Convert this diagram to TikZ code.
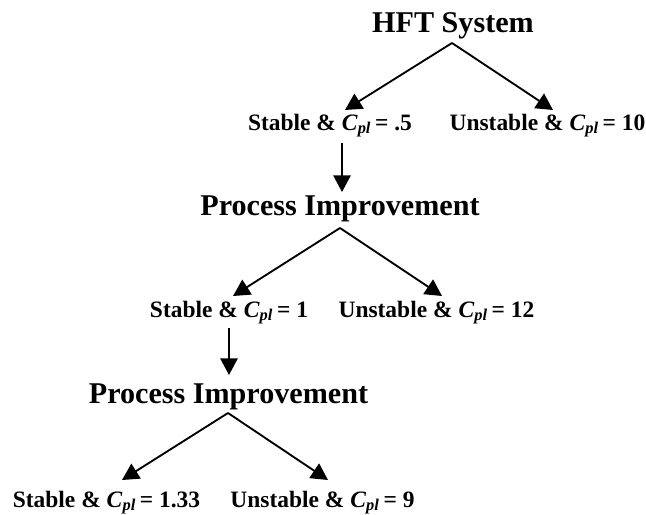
\documentclass[tikz,border=0pt]{standalone}
\usepackage{fontspec}
\setmainfont{Liberation Serif}
\usetikzlibrary{arrows.meta}
\newcommand{\cpl}{\textbf{\textit{C}}\textsubscript{\textbf{\textit{pl}}}}
\tikzset{
  title/.style={font=\bfseries\fontsize{22.6}{26}\selectfont, inner sep=0pt, anchor=base},
  lbl/.style={font=\bfseries\fontsize{17.6}{20}\selectfont, inner sep=0pt, anchor=base},
  arr/.style={line width=1.4pt, -{Triangle[length=12.5pt,width=13pt]}}
}
\begin{document}
\begin{tikzpicture}[x=0.75pt,y=-0.75pt]
\useasboundingbox (0,0) rectangle (646,514);
% nodes
\node[title] (hft) at (453,32) {HFT System};
\node[lbl] (s1) at (330,130) {Stable \& \cpl\,= .5};
\node[lbl] (u1) at (547.5,130) {Unstable \& \cpl\,= 10};
\node[title] (pi1) at (340,215) {Process Improvement};
\node[lbl] (s2) at (229,317) {Stable \& \cpl\,= 1};
\node[lbl] (u2) at (436.5,317) {Unstable \& \cpl\,= 12};
\node[title] (pi2) at (228.5,403) {Process Improvement};
\node[lbl] (s3) at (106.5,507) {Stable \& \cpl\,= 1.33};
\node[lbl] (u3) at (322.5,507) {Unstable \& \cpl\,= 9};
% connector points
\coordinate (hftO) at (452,43);
\coordinate (s1In) at (345,110);
\coordinate (u1In) at (553,110);
\coordinate (s1O) at (342,143);
\coordinate (pi1In) at (342,192);
\coordinate (pi1O) at (340,228);
\coordinate (s2In) at (233,296);
\coordinate (u2In) at (442,296);
\coordinate (s2O) at (229,328);
\coordinate (pi2In) at (229,375);
\coordinate (pi2O) at (228,413);
\coordinate (s3In) at (122,480);
\coordinate (u3In) at (328,480);
% connectors
\draw[arr] (hftO) -- (s1In);
\draw[arr] (hftO) -- (u1In);
\draw[arr] (s1O) -- (pi1In);
\draw[arr] (pi1O) -- (s2In);
\draw[arr] (pi1O) -- (u2In);
\draw[arr] (s2O) -- (pi2In);
\draw[arr] (pi2O) -- (s3In);
\draw[arr] (pi2O) -- (u3In);
\end{tikzpicture}
\end{document}
